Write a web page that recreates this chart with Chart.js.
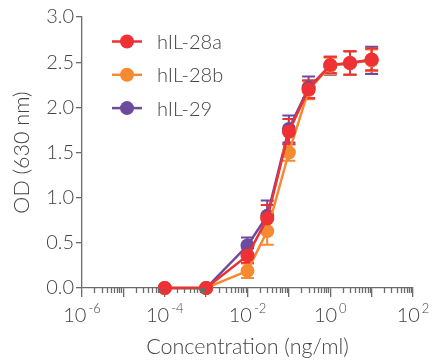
<!DOCTYPE html>
<html>
<head>
<meta charset="utf-8">
<script src="https://cdn.jsdelivr.net/npm/chart.js@4.4.1/dist/chart.umd.min.js"></script>
<style>
    html, body { margin: 0; padding: 0; background: #fff; }
    canvas { display: block; }
</style>
</head>
<body>
<canvas id="chart" width="432" height="360"></canvas>
<script>
// concentrations in ng/ml
const concentrations = [0.0001, 0.001, 0.01, 0.03, 0.1, 0.3, 1, 3, 10];

const seriesNames = ['hIL-28a', 'hIL-28b', 'hIL-29'];
const seriesColors = ['rgb(238, 49, 52)', 'rgb(246, 138, 48)', 'rgb(108, 74, 158)'];

const hIL28a = [0.0, 0.0, 0.36, 0.77, 1.73, 2.20, 2.47, 2.49, 2.53];
const hIL28aErr = [0.02, 0.02, 0.08, 0.15, 0.14, 0.10, 0.09, 0.13, 0.12];
const hIL28b = [0.0, 0.0, 0.19, 0.63, 1.50, 2.19, 2.46, 2.49, 2.52];
const hIL28bErr = [0.02, 0.02, 0.08, 0.15, 0.09, 0.10, 0.09, 0.13, 0.12];
const hIL29 = [0.0, 0.0, 0.47, 0.80, 1.76, 2.22, 2.46, 2.49, 2.52];
const hIL29Err = [0.02, 0.02, 0.09, 0.17, 0.15, 0.12, 0.10, 0.13, 0.15];

const xExponents = [-6, -4, -2, 0, 2];
const yTicks = [0, 0.5, 1, 1.5, 2, 2.5, 3];

const FONT = 'Lato';
const WEIGHT = '300';
const TEXT = '#444';
const AXIS = '#6b6b6b';

const values = [hIL28a, hIL28b, hIL29];
const errors = [hIL28aErr, hIL28bErr, hIL29Err];

const datasets = seriesNames.map((name, i) => ({
    label: name,
    data: concentrations.map((c, j) => ({x: c, y: values[i][j]})),
    errors: errors[i],
    borderColor: seriesColors[i],
    backgroundColor: seriesColors[i],
    borderWidth: 2.5,
    pointRadius: 7,
    pointBorderWidth: 0,
    pointHoverRadius: 7,
    tension: 0,
    clip: false,
}));

// error bars, drawn under the lines and points
const errorBars = {
    id: 'errorBars',
    beforeDatasetsDraw(chart) {
        const ctx = chart.ctx;
        const x = chart.scales.x, y = chart.scales.y;
        ctx.save();
        for (let i = chart.data.datasets.length - 1; i >= 0; i--) {
            const ds = chart.data.datasets[i];
            ctx.strokeStyle = ds.borderColor;
            ctx.lineWidth = 2;
            ds.data.forEach((p, j) => {
                const e = ds.errors[j];
                const px = x.getPixelForValue(p.x);
                const top = y.getPixelForValue(p.y + e);
                const bot = y.getPixelForValue(Math.max(0, p.y - e));
                ctx.beginPath();
                ctx.moveTo(px, top); ctx.lineTo(px, bot);
                ctx.moveTo(px - 6.5, top); ctx.lineTo(px + 6.5, top);
                ctx.moveTo(px - 6.5, bot); ctx.lineTo(px + 6.5, bot);
                ctx.stroke();
            });
        }
        ctx.restore();
    }
};

// minor log ticks and 10^n labels on the x axis
const logAxis = {
    id: 'logAxis',
    afterDraw(chart) {
        const ctx = chart.ctx;
        const x = chart.scales.x;
        const y0 = x.top;
        ctx.save();
        ctx.strokeStyle = AXIS;
        ctx.lineWidth = 1.3;
        for (let k = -6; k < 2; k++) {
            for (let m = 2; m <= 9; m++) {
                const px = Math.round(x.getPixelForValue(m * Math.pow(10, k))) + 0.5;
                ctx.beginPath();
                ctx.moveTo(px, y0); ctx.lineTo(px, y0 + 5);
                ctx.stroke();
            }
        }
        ctx.fillStyle = TEXT;
        ctx.textBaseline = 'alphabetic';
        ctx.textAlign = 'left';
        const big = WEIGHT + ' 20px ' + FONT, small = WEIGHT + ' 13px ' + FONT;
        xExponents.forEach(k => {
            const px = x.getPixelForValue(Math.pow(10, k));
            const base = '10', sup = String(k);
            ctx.font = big;
            const wb = ctx.measureText(base).width;
            ctx.font = small;
            const ws = ctx.measureText(sup).width;
            const left = px - (wb + 2 + ws) / 2;
            ctx.font = big;
            ctx.fillText(base, left, y0 + 34);
            ctx.font = small;
            ctx.fillText(sup, left + wb + 2, y0 + 25);
        });
        ctx.restore();
    }
};

// legend inside the plot, line + marker per series
const insideLegend = {
    id: 'insideLegend',
    afterDraw(chart) {
        const ctx = chart.ctx;
        ctx.save();
        ctx.font = WEIGHT + ' 20px ' + FONT;
        ctx.textBaseline = 'middle';
        chart.data.datasets.forEach((ds, i) => {
            const cy = 41.5 + i * 33.3;
            ctx.strokeStyle = ds.borderColor;
            ctx.lineWidth = 2.5;
            ctx.beginPath();
            ctx.moveTo(112, cy); ctx.lineTo(142, cy);
            ctx.stroke();
            ctx.fillStyle = ds.backgroundColor;
            ctx.beginPath();
            ctx.arc(127, cy, 7, 0, Math.PI * 2);
            ctx.fill();
            ctx.fillStyle = TEXT;
            ctx.fillText(ds.label, 157, cy + 1);
        });
        ctx.restore();
    }
};

const config = {
    type: 'line',
    data: {datasets: datasets},
    options: {
        responsive: false,
        animation: false,
        events: [],
        layout: {padding: {top: 17, right: 19, left: 0, bottom: 0}},
        plugins: {
            legend: {display: false},
            tooltip: {enabled: false},
        },
        scales: {
            x: {
                type: 'logarithmic',
                min: 1e-6,
                max: 1e2,
                afterBuildTicks: (scale) => {
                    scale.ticks = xExponents.concat([-5, -3, -1, 1])
                        .sort((a, b) => a - b)
                        .map(k => ({value: Math.pow(10, k), major: true}));
                },
                afterFit: (scale) => { scale.height = 72; },
                ticks: {display: false},
                grid: {drawOnChartArea: false, tickLength: 9, color: AXIS, lineWidth: 1.3},
                border: {color: AXIS, width: 1.3},
                title: {
                    display: true,
                    text: 'Concentration (ng/ml)',
                    color: TEXT,
                    font: {family: FONT, size: 21.5, weight: WEIGHT},
                    padding: {top: 0, bottom: 0},
                },
            },
            y: {
                min: 0,
                max: 3,
                afterBuildTicks: (scale) => {
                    scale.ticks = yTicks.map(v => ({value: v}));
                },
                afterFit: (scale) => { scale.width = 82; },
                ticks: {
                    color: TEXT,
                    font: {family: FONT, size: 20, weight: WEIGHT},
                    padding: 2,
                    callback: (v) => Number(v).toFixed(1),
                },
                grid: {drawOnChartArea: false, tickLength: 6, color: AXIS, lineWidth: 1.3},
                border: {color: AXIS, width: 1.3},
                title: {
                    display: true,
                    text: 'OD (630 nm)',
                    color: TEXT,
                    font: {family: FONT, size: 21.5, weight: WEIGHT},
                    padding: {top: 9, bottom: 0},
                },
            },
        },
    },
    plugins: [errorBars, logAxis, insideLegend],
};

document.fonts.load(WEIGHT + ' 20px ' + FONT).finally(() => {
    new Chart(document.getElementById('chart'), config);
});
</script>
</body>
</html>
